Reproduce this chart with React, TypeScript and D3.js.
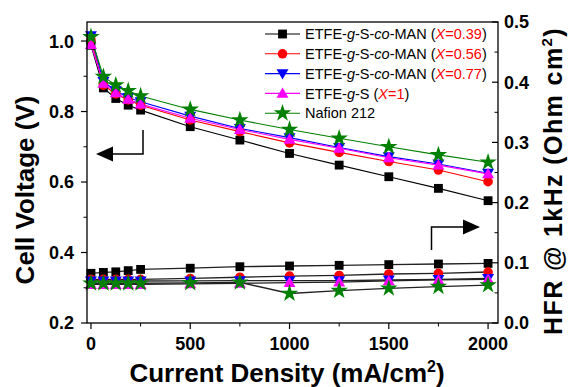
import React from "react";
import * as d3 from "d3";

// Current density points (mA/cm2)
const currentDensity = [0, 62.5, 125, 187.5, 250, 500, 750, 1000, 1250, 1500, 1750, 2000];

// Cell voltage (V) per membrane
const voltX039 = [0.988, 0.867, 0.837, 0.818, 0.804, 0.757, 0.719, 0.681, 0.648, 0.615, 0.582, 0.547];
const voltX056 = [1.003, 0.875, 0.85, 0.833, 0.818, 0.776, 0.743, 0.711, 0.684, 0.658, 0.634, 0.601];
const voltX077 = [1.015, 0.885, 0.859, 0.84, 0.828, 0.787, 0.752, 0.726, 0.698, 0.672, 0.651, 0.625];
const voltX1 = [0.99, 0.88, 0.853, 0.835, 0.821, 0.781, 0.749, 0.721, 0.696, 0.669, 0.648, 0.623];
const voltNafion = [1.012, 0.899, 0.875, 0.859, 0.844, 0.806, 0.776, 0.749, 0.724, 0.7, 0.677, 0.656];

// High-frequency resistance at 1 kHz (Ohm cm2)
const hfrX039 = [0.0825, 0.084, 0.085, 0.087, 0.089, 0.091, 0.0935, 0.0947, 0.0958, 0.097, 0.098, 0.099];
const hfrX056 = [0.0725, 0.0725, 0.0725, 0.0725, 0.0725, 0.074, 0.076, 0.078, 0.079, 0.0814, 0.0825, 0.0847];
const hfrX077 = [0.0698, 0.0698, 0.0698, 0.0698, 0.0698, 0.07, 0.0703, 0.0703, 0.0703, 0.0714, 0.0725, 0.074];
const hfrX1 = [0.064, 0.064, 0.064, 0.064, 0.064, 0.065, 0.066, 0.067, 0.068, 0.07, 0.0715, 0.0725];
const hfrNafion = [0.066, 0.066, 0.066, 0.066, 0.066, 0.0665, 0.0675, 0.049, 0.0537, 0.0576, 0.0603, 0.063];

const xTicks = [0, 500, 1000, 1500, 2000];
const xMinorTicks = [250, 750, 1250, 1750];
const leftTicks = [0.2, 0.4, 0.6, 0.8, 1.0];
const leftMinorTicks = [0.3, 0.5, 0.7, 0.9];
const rightTicks = [0.0, 0.1, 0.2, 0.3, 0.4, 0.5];
const rightMinorTicks = [0.05, 0.15, 0.25, 0.35, 0.45];

type Shape = "square" | "circle" | "triangleDown" | "triangleUp" | "star";

const series: {
  color: string;
  shape: Shape;
  volt: number[];
  hfr: number[];
  prefix: string;
  xVal: string | null;
}[] = [
  { color: "#000000", shape: "square", volt: voltX039, hfr: hfrX039, prefix: "co", xVal: "0.39" },
  { color: "#ff0000", shape: "circle", volt: voltX056, hfr: hfrX056, prefix: "co", xVal: "0.56" },
  { color: "#0000ff", shape: "triangleDown", volt: voltX077, hfr: hfrX077, prefix: "co", xVal: "0.77" },
  { color: "#ff00ff", shape: "triangleUp", volt: voltX1, hfr: hfrX1, prefix: "gS", xVal: "1" },
  { color: "#008000", shape: "star", volt: voltNafion, hfr: hfrNafion, prefix: "nafion", xVal: null },
];

const FONT = "Arial, 'Liberation Sans', Helvetica, sans-serif";

const plot = { left: 87, right: 498, top: 22, bottom: 323 };

const x = d3.scaleLinear().domain([-20, 2050]).range([plot.left, plot.right]);
const yLeft = d3.scaleLinear().domain([0.2, 1.054]).range([plot.bottom, plot.top]);
const yRight = d3.scaleLinear().domain([0, 0.5]).range([plot.bottom, plot.top]);

function markerPath(shape: Shape): string {
  const sym =
    shape === "square"
      ? d3.symbolSquare
      : shape === "circle"
      ? d3.symbolCircle
      : shape === "star"
      ? d3.symbolStar
      : d3.symbolTriangle;
  const size = shape === "star" ? 95 : shape === "square" ? 78 : shape === "circle" ? 72 : 62;
  return d3.symbol(sym, size)() as string;
}

function Marker({ shape, color, cx, cy }: { shape: Shape; color: string; cx: number; cy: number }) {
  const rot = shape === "triangleDown" ? " rotate(180)" : "";
  const dy = shape === "triangleDown" ? -1 : shape === "triangleUp" ? 1 : 0;
  return <path d={markerPath(shape)} transform={`translate(${cx},${cy + dy})${rot}`} fill={color} />;
}

function LegendLabel({ s }: { s: (typeof series)[number] }) {
  if (s.prefix === "nafion") return <tspan>Nafion 212</tspan>;
  const red = "#ff0000";
  return (
    <>
      <tspan>ETFE-</tspan>
      <tspan fontStyle="italic">g</tspan>
      <tspan>-S</tspan>
      {s.prefix === "co" && (
        <>
          <tspan>-</tspan>
          <tspan fontStyle="italic">co</tspan>
          <tspan>-MAN</tspan>
        </>
      )}
      <tspan> (</tspan>
      <tspan fontStyle="italic" fill={red}>X</tspan>
      <tspan fill={red}>={s.xVal}</tspan>
      <tspan>)</tspan>
    </>
  );
}

export default function App() {
  const voltLine = (vals: number[]) =>
    d3
      .line<number>()
      .x((_, i) => x(currentDensity[i]))
      .y((v) => yLeft(v))(vals) as string;
  const hfrLine = (vals: number[]) =>
    d3
      .line<number>()
      .x((_, i) => x(currentDensity[i]))
      .y((v) => yRight(v))(vals) as string;

  const legendX = 265;
  const legendY0 = 34;
  const legendDy = 19.8;

  return (
    <svg
      width={569}
      height={387}
      style={{ position: "absolute", left: 0, top: 0, background: "#fff" }}
      fontFamily={FONT}
    >
      <rect x={0} y={0} width={569} height={387} fill="#fff" />

      {/* HFR curves: dark connecting lines */}
      {series.map((s, i) => (
        <path key={`hl${i}`} d={hfrLine(s.hfr)} fill="none" stroke="#222" strokeWidth={1.3} />
      ))}
      {series.map((s, i) =>
        s.hfr.map((v, j) => (
          <Marker key={`hm${i}-${j}`} shape={s.shape} color={s.color} cx={x(currentDensity[j])} cy={yRight(v)} />
        ))
      )}

      {/* Polarization curves */}
      {series.map((s, i) => (
        <path key={`vl${i}`} d={voltLine(s.volt)} fill="none" stroke={s.color} strokeWidth={1.1} />
      ))}
      {series.map((s, i) =>
        s.volt.map((v, j) => (
          <Marker key={`vm${i}-${j}`} shape={s.shape} color={s.color} cx={x(currentDensity[j])} cy={yLeft(v)} />
        ))
      )}

      {/* Frame */}
      <rect
        x={plot.left}
        y={plot.top}
        width={plot.right - plot.left}
        height={plot.bottom - plot.top}
        fill="none"
        stroke="#000"
        strokeWidth={1.3}
      />

      {/* Bottom axis */}
      {xTicks.map((t) => (
        <g key={`xt${t}`}>
          <line x1={x(t)} x2={x(t)} y1={plot.bottom} y2={plot.bottom + 6} stroke="#000" strokeWidth={1.2} />
          <text x={x(t)} y={350} textAnchor="middle" fontSize={18} fontWeight="bold">
            {t}
          </text>
        </g>
      ))}
      {xMinorTicks.map((t) => (
        <line key={`xm${t}`} x1={x(t)} x2={x(t)} y1={plot.bottom} y2={plot.bottom + 3.5} stroke="#000" strokeWidth={1} />
      ))}

      {/* Left axis */}
      {leftTicks.map((t) => (
        <g key={`lt${t}`}>
          <line x1={plot.left - 6} x2={plot.left} y1={yLeft(t)} y2={yLeft(t)} stroke="#000" strokeWidth={1.2} />
          <text x={74} y={yLeft(t)} dy="0.36em" textAnchor="end" fontSize={18} fontWeight="bold">
            {t.toFixed(1)}
          </text>
        </g>
      ))}
      {leftMinorTicks.map((t) => (
        <line key={`lm${t}`} x1={plot.left - 3.5} x2={plot.left} y1={yLeft(t)} y2={yLeft(t)} stroke="#000" strokeWidth={1} />
      ))}

      {/* Right axis */}
      {rightTicks.map((t) => (
        <g key={`rt${t}`}>
          <line x1={plot.right - 6} x2={plot.right} y1={yRight(t)} y2={yRight(t)} stroke="#000" strokeWidth={1.2} />
          <text x={504} y={yRight(t)} dy="0.36em" textAnchor="start" fontSize={18} fontWeight="bold">
            {t.toFixed(1)}
          </text>
        </g>
      ))}
      {rightMinorTicks.map((t) => (
        <line key={`rm${t}`} x1={plot.right - 3.5} x2={plot.right} y1={yRight(t)} y2={yRight(t)} stroke="#000" strokeWidth={1} />
      ))}

      {/* Axis titles */}
      <text x={287} y={382} textAnchor="middle" fontSize={26} fontWeight="bold">
        Current Density (mA/cm<tspan fontSize={16} dy={-10}>2</tspan>
        <tspan dy={10}>)</tspan>
      </text>
      <text
        transform={`translate(34,190) rotate(-90)`}
        textAnchor="middle"
        fontSize={26}
        fontWeight="bold"
      >
        Cell Voltage (V)
      </text>
      <text
        transform={`translate(562,181) rotate(-90)`}
        textAnchor="middle"
        fontSize={25}
        fontWeight="bold"
        letterSpacing={1.4}
      >
        HFR @ 1kHz (Ohm cm<tspan fontSize={15} dy={-10}>2</tspan>
        <tspan dy={10}>)</tspan>
      </text>

      {/* Direction arrows */}
      <path d="M143,130 V154 H112" fill="none" stroke="#000" strokeWidth={1.5} />
      <path d="M96,154 L113,146.5 L113,161.5 Z" fill="#000" />
      <path d="M431.5,250 V227 H464" fill="none" stroke="#000" strokeWidth={1.5} />
      <path d="M480,227 L463,219.5 L463,234.5 Z" fill="#000" />

      {/* Legend */}
      {series.map((s, i) => {
        const ly = legendY0 + i * legendDy;
        return (
          <g key={`lg${i}`}>
            <line x1={legendX} x2={legendX + 35} y1={ly} y2={ly} stroke={s.color} strokeWidth={1.1} />
            <Marker shape={s.shape} color={s.color} cx={legendX + 17.5} cy={ly} />
            <text x={305} y={ly} dy="0.36em" fontSize={14.5} fill="#000">
              <LegendLabel s={s} />
            </text>
          </g>
        );
      })}
    </svg>
  );
}
